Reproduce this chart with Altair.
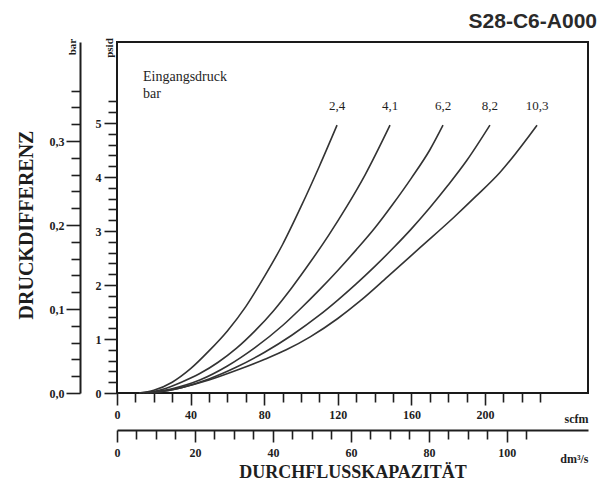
import altair as alt
import pandas as pd

# ---------------- data ----------------
series = ["2,4", "4,1", "6,2", "8,2", "10,3"]

flow_24 = [12, 20, 30, 40, 50, 60, 70, 80, 90, 100, 110, 119.6]
dp_24 = [0, 0.05, 0.2, 0.45, 0.78, 1.15, 1.6, 2.15, 2.75, 3.45, 4.2, 4.96]

flow_41 = [14, 25, 35, 45, 55, 65, 75, 85, 95, 105, 115, 125, 135, 148.4]
dp_41 = [0, 0.07, 0.2, 0.36, 0.57, 0.83, 1.15, 1.52, 1.95, 2.42, 2.92, 3.46, 4.05, 4.96]

flow_62 = [16, 30, 45, 60, 75, 90, 100, 110, 120, 130, 140, 150, 160, 170, 177.2]
dp_62 = [0, 0.08, 0.24, 0.5, 0.84, 1.25, 1.57, 1.91, 2.27, 2.65, 3.05, 3.5, 3.98, 4.5, 4.96]

flow_82 = [18, 35, 50, 65, 80, 95, 110, 120, 130, 140, 150, 160, 170, 180, 190, 202.7]
dp_82 = [0, 0.1, 0.26, 0.48, 0.75, 1.07, 1.44, 1.72, 2.02, 2.34, 2.68, 3.04, 3.43, 3.85, 4.3, 4.96]

flow_103 = [20, 35, 50, 65, 80, 92, 105, 120, 132, 147, 165, 183, 195, 208, 228.3]
dp_103 = [0, 0.1, 0.24, 0.42, 0.62, 0.8, 1.04, 1.38, 1.7, 2.15, 2.7, 3.25, 3.64, 4.08, 4.96]

scfm_ticks = list(range(0, 231, 10))
dm3_ticks = list(range(0, 106, 5))
psid_ticks = [round(i * 0.2, 1) for i in range(28)]
bar_ticks = [round(i * 0.02, 2) for i in range(19)]

scfm_max = 256
dm3_max = 256 / 2.119
psid_max = 6.5
bar_max = 0.418

# ---------------- tables ----------------
flows = [flow_24, flow_41, flow_62, flow_82, flow_103]
dps = [dp_24, dp_41, dp_62, dp_82, dp_103]
rows = []
for s, f, d in zip(series, flows, dps):
    for i, (a, b) in enumerate(zip(f, d)):
        rows.append({"series": s, "scfm": a, "psid": b, "order": i})
df = pd.DataFrame(rows)
ends = pd.DataFrame({"series": series,
                     "scfm": [f[-1] for f in flows],
                     "psid": [d[-1] for d in dps]})
one = pd.DataFrame({"k": [0]})

SERIF = "Liberation Serif"
INK = "#1e1e1e"

xs = alt.Scale(domain=[0, scfm_max], nice=False, zero=True)
ys = alt.Scale(domain=[0, psid_max], nice=False, zero=True)

is_int = "abs(datum.value - round(datum.value)) < 0.001"

x_axis = alt.Axis(
    values=scfm_ticks, domain=False, grid=False,
    labelExpr="datum.value % 40 === 0 ? datum.label : ''",
    tickSize={"condition": {"test": "datum.value % 40 === 0", "value": 12}, "value": 9},
    tickColor=INK, tickWidth=1.6, labelPadding=4,
    labelFont=SERIF, labelFontSize=12, labelFontWeight="bold", labelColor=INK,
    labelOverlap=False, labelFlush=False,
    title="scfm", titleX=471, titleY=29, titleAlign="right", titleBaseline="alphabetic",
    titleFont=SERIF, titleFontSize=12, titleFontWeight="bold", titleColor=INK,
    orient="bottom", offset=0,
)
y_axis = alt.Axis(
    values=psid_ticks, domain=False, grid=False,
    labelExpr=is_int + " ? format(datum.value, 'd') : ''",
    tickSize={"condition": {"test": is_int, "value": 13}, "value": 9},
    tickColor=INK, tickWidth=1.6, labelPadding=3,
    labelFont=SERIF, labelFontSize=12, labelFontWeight="bold", labelColor=INK,
    labelOverlap=False, labelFlush=False,
    title=None, orient="left", offset=0,
)

lines = alt.Chart(df).mark_line(color="#333333", strokeWidth=1.6, interpolate="monotone").encode(
    x=alt.X("scfm:Q", scale=xs, axis=x_axis),
    y=alt.Y("psid:Q", scale=ys, axis=y_axis),
    detail="series:N",
    order="order:Q",
)

labels = alt.Chart(ends).mark_text(
    font=SERIF, fontSize=13, color=INK, baseline="alphabetic", align="center", dy=-15
).encode(x=alt.X("scfm:Q", scale=xs, axis=x_axis),
         y=alt.Y("psid:Q", scale=ys, axis=y_axis),
         text="series:N")

def note(txt, x, y, **kw):
    return alt.Chart(one).mark_text(text=txt, **kw).encode(x=alt.value(x), y=alt.value(y))

legend_txt = note("Eingangsdruck\nbar", 26, 35, lineBreak="\n", lineHeight=17, align="left",
                  baseline="middle", font=SERIF, fontSize=14, color=INK)
title_txt = note("S28-C6-A000", 480, -14, align="right", baseline="alphabetic",
                 font="Liberation Sans", fontSize=21, fontWeight="bold", color="#2a2a2a")
xtitle_txt = note("DURCHFLUSSKAPAZITÄT", 236, 436, align="center", baseline="alphabetic",
                  font=SERIF, fontSize=18, fontWeight="bold", color=INK)
ytitle_txt = note("DRUCKDIFFERENZ", -90, 183, align="center", baseline="middle", angle=270,
                  font=SERIF, fontSize=20, fontWeight="bold", color=INK)
bar_unit = note("bar", -44, 5, align="center", baseline="middle", angle=270,
                font=SERIF, fontSize=11, fontWeight="bold", color=INK)
psid_unit = note("psid", -7, 6, align="center", baseline="middle", angle=270,
                 font=SERIF, fontSize=11, fontWeight="bold", color=INK)

main = alt.layer(lines, labels, legend_txt, title_txt, xtitle_txt, ytitle_txt, bar_unit, psid_unit)

# second x axis: dm3/s
dm3_df = pd.DataFrame({"dm3": dm3_ticks})
dm3_layer = alt.Chart(dm3_df).mark_point(opacity=0).encode(
    x=alt.X("dm3:Q", scale=alt.Scale(domain=[0, dm3_max], nice=False, zero=True),
            axis=alt.Axis(
                values=dm3_ticks, domain=True, domainColor=INK, domainWidth=2, grid=False,
                labelExpr="datum.value % 20 === 0 ? datum.label : ''",
                tickSize={"condition": {"test": "datum.value % 20 === 0", "value": 12}, "value": 9},
                tickColor=INK, tickWidth=1.6, labelPadding=5,
                labelFont=SERIF, labelFontSize=12, labelFontWeight="bold", labelColor=INK,
                labelOverlap=False, labelFlush=False,
                title="dm³/s", titleX=471, titleY=32, titleAlign="right", titleBaseline="alphabetic",
                titleFont=SERIF, titleFontSize=12, titleFontWeight="bold", titleColor=INK,
                orient="bottom", offset=37)),
)

# second y axis: bar
bar_df = pd.DataFrame({"bar": bar_ticks})
bar_layer = alt.Chart(bar_df).mark_point(opacity=0).encode(
    y=alt.Y("bar:Q", scale=alt.Scale(domain=[0, bar_max], nice=False, zero=True),
            axis=alt.Axis(
                values=bar_ticks, domain=True, domainColor=INK, domainWidth=2, grid=False,
                labelExpr="abs(datum.value*10 - round(datum.value*10)) < 0.001 ? replace(format(datum.value, '.1f'), '.', ',') : ''",
                tickSize={"condition": {"test": "abs(datum.value*10 - round(datum.value*10)) < 0.001", "value": 14}, "value": 9},
                tickColor=INK, tickWidth=1.6, labelPadding=2,
                labelFont=SERIF, labelFontSize=12, labelFontWeight="bold", labelColor=INK,
                labelOverlap=False, labelFlush=False,
                title=None, orient="left", offset=37)),
)

chart = alt.layer(main, dm3_layer, bar_layer).resolve_scale(
    x="independent", y="independent"
).resolve_axis(x="independent", y="independent").properties(
    width=471, height=351,
    padding={"left": 109, "top": 34, "right": 10, "bottom": 92},
    autosize=alt.AutoSizeParams(type="none"),
    background="white",
).configure_view(stroke="#1a1a1a", strokeWidth=2).configure_axis(labelOverlap=False)

chart.save("out.html", embed_options={"renderer": "svg", "actions": False})
